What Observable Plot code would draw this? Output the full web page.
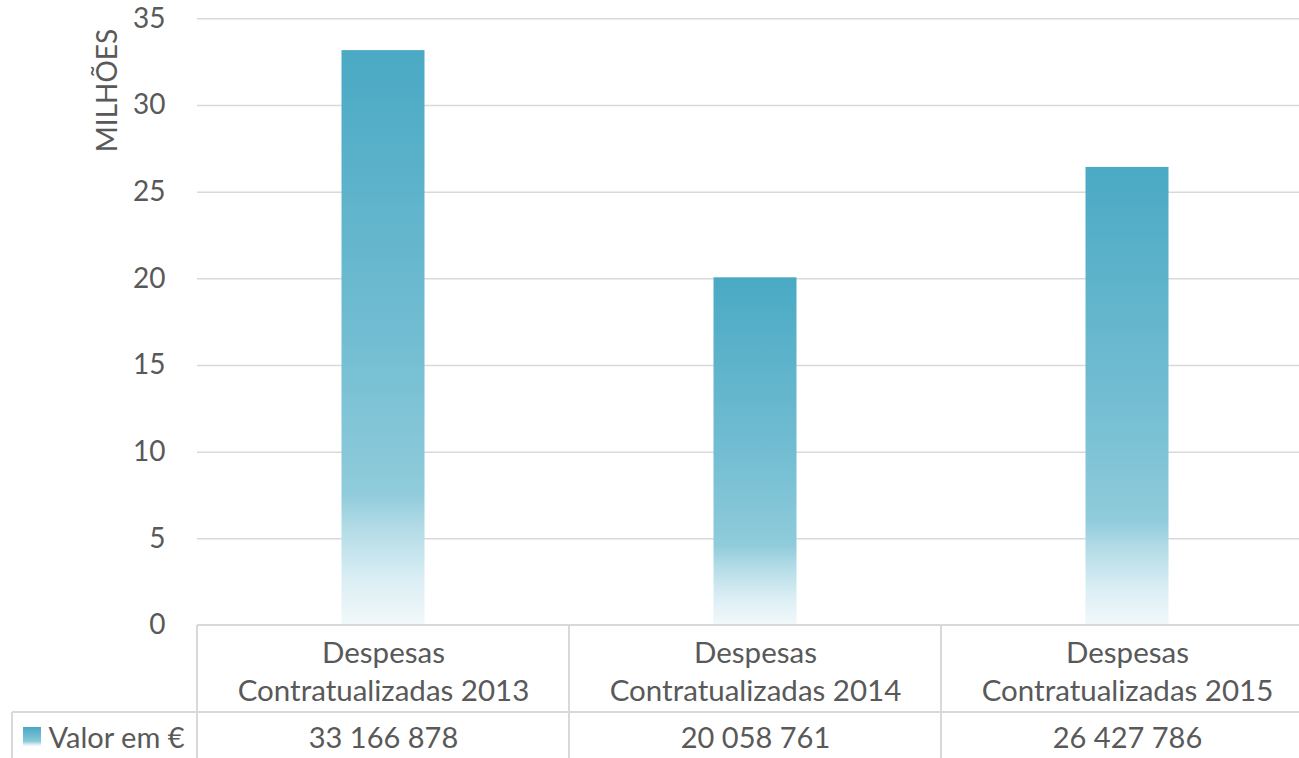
<!DOCTYPE html>
<html><head><meta charset="utf-8">
<script src="https://cdn.jsdelivr.net/npm/d3@7"></script>
<script src="https://cdn.jsdelivr.net/npm/@observablehq/plot@0.6"></script>
<style>html,body{margin:0;padding:0;background:#fff;overflow:hidden}</style>
</head><body><div id="chart"></div>
<script>
// ---- data ----
const years = ["2013", "2014", "2015"];
const categoryPrefix = "Despesas\nContratualizadas ";
const values = [33166878, 20058761, 26427786];
const yTicks = [0, 5, 10, 15, 20, 25, 30, 35];
const seriesName = "Valor em €";
const axisLabel = "MILHÕES";

const data = years.map((y, i) => ({
  cat: y,
  label: categoryPrefix + y,
  millions: values[i] / 1e6,
  text: d3.format(",")(values[i]).replace(/,/g, " ")
}));

const gradStops = [[0, "#4aa9c4"], [0.5, "#72bdd2"], [0.77, "#8fcbdb"], [0.83, "#b2dbe6"], [0.92, "#daeef4"], [1, "#f2f8fa"]];
const lineColor = "#d9d9d9";
const textColor = "#595959";

// render-function mark: gradient defs, data-table lines, legend swatch
const tableMark = (index, scales, vals, dims) => {
  const g = d3.create("svg:g");
  const grad = g.append("defs").append("linearGradient")
    .attr("id", "barGrad").attr("x1", 0).attr("y1", 0).attr("x2", 0).attr("y2", 1);
  gradStops.forEach(([o, c]) => grad.append("stop").attr("offset", o).attr("stop-color", c));
  const x = scales.x;
  const bw = x.bandwidth();
  const y0 = scales.y(0);
  const rowY = y0 + 87;
  const H = dims.height;
  const line = (x1, y1, x2, y2) => g.append("line")
    .attr("x1", x1).attr("y1", y1).attr("x2", x2).attr("y2", y2)
    .attr("stroke", lineColor).attr("stroke-width", 2);
  const xEnd = x(years[years.length - 1]) + bw;
  line(dims.marginLeft, y0, xEnd, y0);
  line(12, rowY, xEnd, rowY);
  line(12, rowY, 12, H);
  years.forEach(y => line(x(y), y0, x(y), H));
  line(xEnd, y0, xEnd, H);
  g.append("rect").attr("x", 23).attr("y", rowY + 15).attr("width", 18).attr("height", 19)
    .attr("fill", "url(#barGrad)");
  return g.node();
};

const chart = Plot.plot({
  width: 1299,
  height: 758,
  marginLeft: 197,
  marginRight: 0,
  marginTop: 18.33,
  marginBottom: 133,
  style: {fontFamily: "Lato, 'Open Sans', sans-serif", fontSize: "28px", color: textColor, background: "#fff", maxWidth: "none"},
  x: {type: "band", domain: years, range: [197, 1313], padding: 0, axis: null},
  y: {domain: [0, 35], axis: null},
  marks: [
    Plot.ruleY(yTicks.filter(t => t > 0), {stroke: lineColor, strokeWidth: 1.5}),
    Plot.barY(data, {x: "cat", y: "millions", fill: "url(#barGrad)", insetLeft: 144.5, insetRight: 144.5}),
    tableMark,
    Plot.axisY({ticks: yTicks, tickSize: 0, tickPadding: 32, label: null}),
    Plot.text(data, {x: "cat", text: "label", frameAnchor: "bottom", lineAnchor: "middle", dy: 44, fontSize: 29.5, lineHeight: 38 / 29.5, fill: textColor}),
    Plot.text(data, {x: "cat", text: "text", frameAnchor: "bottom", lineAnchor: "middle", dy: 113, fontSize: 29, fill: textColor}),
    Plot.text([seriesName], {text: d => d, frameAnchor: "bottom-left", lineAnchor: "middle", dx: -149, dy: 113, textAnchor: "start", fontSize: 29, fill: textColor}),
    Plot.text([axisLabel], {text: d => d, frameAnchor: "top-left", lineAnchor: "middle", dx: -89.5, dy: 10, rotate: -90, textAnchor: "end", fill: textColor})
  ]
});
document.getElementById("chart").appendChild(chart);
</script>
</body></html>
